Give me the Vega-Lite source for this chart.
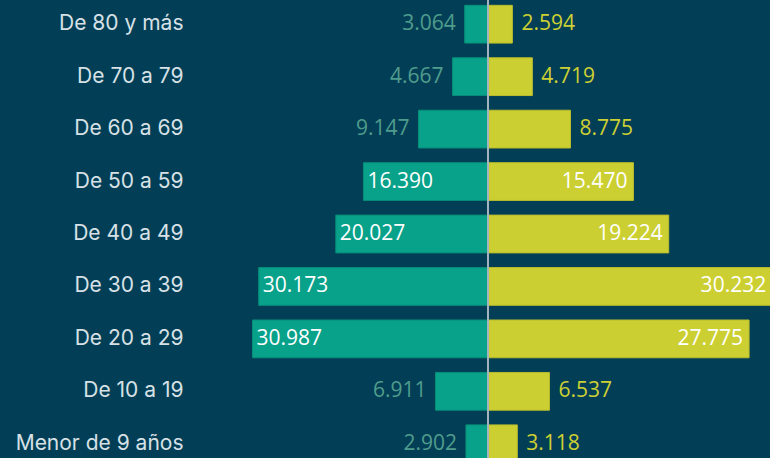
{
  "$schema": "https://vega.github.io/schema/vega-lite/v6.json",
  "background": "#023f56",
  "autosize": {"type": "none"},
  "padding": {"left": 190, "top": -2, "right": 0, "bottom": 0},
  "width": 580,
  "height": 460,
  "config": {
    "view": {"stroke": null},
    "axis": {"grid": false},
    "locale": {"number": {"decimal": ",", "thousands": ".", "grouping": [3], "currency": ["", " €"]}}
  },
  "data": {"values": [
    {"grupo": "De 80 y más", "mujeres": 3064, "hombres": 2594},
    {"grupo": "De 70 a 79", "mujeres": 4667, "hombres": 4719},
    {"grupo": "De 60 a 69", "mujeres": 9147, "hombres": 8775},
    {"grupo": "De 50 a 59", "mujeres": 16390, "hombres": 15470},
    {"grupo": "De 40 a 49", "mujeres": 20027, "hombres": 19224},
    {"grupo": "De 30 a 39", "mujeres": 30173, "hombres": 30232},
    {"grupo": "De 20 a 29", "mujeres": 30987, "hombres": 27775},
    {"grupo": "De 10 a 19", "mujeres": 6911, "hombres": 6537},
    {"grupo": "Menor de 9 años", "mujeres": 2902, "hombres": 3118}
  ]},
  "encoding": {
    "y": {"field": "grupo", "type": "nominal", "sort": null,
          "scale": {"paddingInner": 0.28, "paddingOuter": 0.14, "range": [0, 472]},
          "axis": {"title": null, "domain": false, "ticks": false, "labelFont": "Inter", "labelFontSize": 21, "labelColor": "#d7e1e6", "labelPadding": 7, "labelFontWeight": "normal"}}
  },
  "layer": [
    {
      "encoding": {
        "x": {"field": "mujeres", "type": "quantitative", "scale": {"domain": [-37105, 39211], "reverse": true}, "axis": null}
      },
      "layer": [
        {"mark": {"type": "bar", "color": "#08a18a", "stroke": "#078d79", "strokeWidth": 1}},
        {"transform": [{"filter": "datum.mujeres < 10000"}],
         "mark": {"type": "text", "align": "right", "baseline": "middle", "dx": -9, "font": "Open Sans", "fontSize": 21, "color": "#4f9c8c"},
         "encoding": {"text": {"field": "mujeres", "type": "quantitative", "format": ",d"}}},
        {"transform": [{"filter": "datum.mujeres >= 10000"}],
         "mark": {"type": "text", "align": "left", "baseline": "middle", "dx": 4, "font": "Open Sans", "fontSize": 21, "color": "#ffffff"},
         "encoding": {"text": {"field": "mujeres", "type": "quantitative", "format": ",d"}}}
      ]
    },
    {
      "encoding": {
        "x": {"field": "hombres", "type": "quantitative", "scale": {"domain": [-31702, 30000]}, "axis": null}
      },
      "layer": [
        {"mark": {"type": "bar", "color": "#cccf31", "stroke": "#b9bc2c", "strokeWidth": 1}},
        {"transform": [{"filter": "datum.hombres < 10000"}],
         "mark": {"type": "text", "align": "left", "baseline": "middle", "dx": 9, "font": "Open Sans", "fontSize": 21, "color": "#cdd033"},
         "encoding": {"text": {"field": "hombres", "type": "quantitative", "format": ",d"}}},
        {"transform": [{"filter": "datum.hombres >= 10000"}],
         "mark": {"type": "text", "align": "right", "baseline": "middle", "dx": -6, "font": "Open Sans", "fontSize": 21, "color": "#ffffff"},
         "encoding": {"text": {"field": "hombres", "type": "quantitative", "format": ",d"}}},
        {"mark": {"type": "rule", "color": "#a3b5bf", "strokeWidth": 1.5},
         "encoding": {"x": {"datum": 0}, "y": null}}
      ]
    }
  ],
  "resolve": {"scale": {"x": "independent"}}
}
